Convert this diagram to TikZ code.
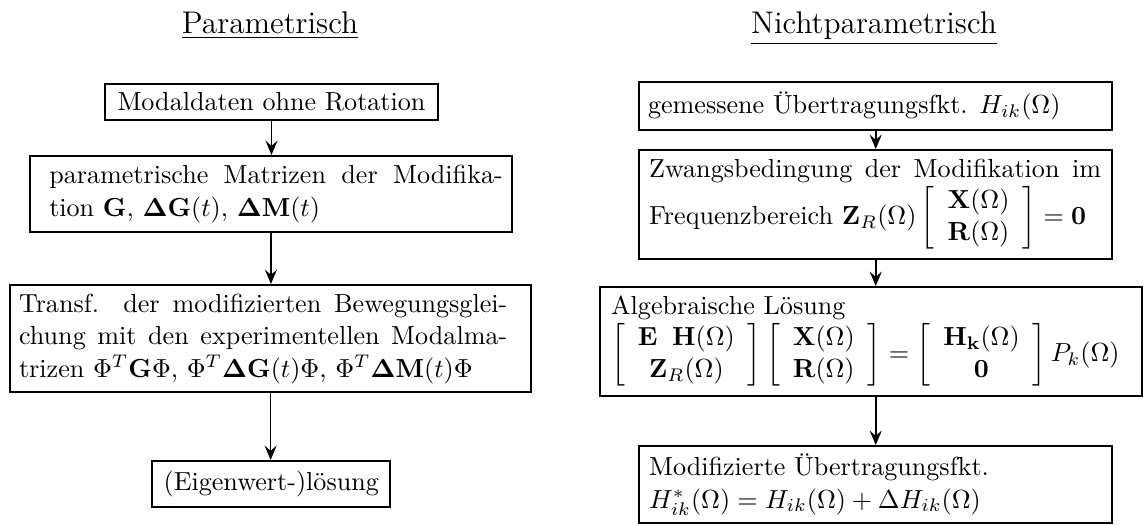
\documentclass[tikz,border=0pt]{standalone}
\usepackage{amsmath}
\usetikzlibrary{arrows.meta}
\newcommand{\bodyfont}{\fontsize{10}{12.4}\selectfont}
\newcommand{\boxtext}[4]{\makebox[#1][l]{\hspace*{#2}\parbox{#3}{\hyphenpenalty=10000\relax\tolerance=10000\relax #4}}}
\tikzset{
  box/.style={draw, line width=0.9pt, inner sep=0pt, anchor=north west, font=\bodyfont},
  flow/.style={-{Stealth[length=5.5pt,width=4.6pt,inset=2pt]}, line width=0.65pt},
  ttl/.style={anchor=base, inner sep=0pt, font=\fontsize{12}{14}\selectfont}
}
\begin{document}
\begin{tikzpicture}[x=0.383pt,y=-0.383pt]
\useasboundingbox (0,0) rectangle (1144,524);
% titles
\node[ttl] (tl) at (270,33) {\underline{Parametrisch}};
\node[ttl] (tr) at (874,33) {\underline{Nichtparametrisch}};
% left column
\node[box, minimum width=127.7pt, minimum height=13.8pt] (L1) at (103.6,83) {Modaldaten ohne Rotation};
\node[box, minimum width=184.8pt, minimum height=29.1pt] (L2) at (28.5,155)
  {\boxtext{184.8pt}{7.5pt}{173.7pt}{parametrische Matrizen der Modifika-\linebreak tion $\mathbf{G}$, $\mathbf{\Delta G}(t)$, $\mathbf{\Delta M}(t)$}};
\node[box, minimum width=199.5pt, minimum height=41pt] (L3) at (9,284)
  {\boxtext{199.5pt}{3.4pt}{187pt}{Transf. der modifizierten Bewegungsglei-\linebreak chung mit den experimentellen Modalma-\linebreak trizen $\Phi^T\mathbf{G}\Phi$, $\Phi^T\mathbf{\Delta G}(t)\Phi$, $\Phi^T\mathbf{\Delta M}(t)\Phi$}};
\node[box, minimum width=91.2pt, minimum height=17.6pt] (L4) at (151,460) {(Eigenwert-)lösung};
% right column
\node[box, minimum width=181.2pt, minimum height=18.4pt] (R1) at (638,81)
  {\makebox[181.2pt][l]{\hspace*{3.4pt}gemessene Übertragungsfkt. $H_{ik}(\Omega)$}};
\node[box, minimum width=181.2pt, minimum height=41.7pt] (R2) at (638,149)
  {\boxtext{181.2pt}{3.8pt}{173.1pt}{Zwangsbedingung der Modifikation im\linebreak Frequenzbereich $\mathbf{Z}_R(\Omega)\left[\begin{array}{c}\mathbf{X}(\Omega)\\ \mathbf{R}(\Omega)\end{array}\right]=\mathbf{0}$}};
\node[box, minimum width=207.6pt, minimum height=41.7pt] (R3) at (599,286)
  {\boxtext{207.6pt}{4.2pt}{201pt}{\raggedright Algebraische Lösung\\ $\left[\begin{array}{c}\mathbf{E}\;\;\mathbf{H}(\Omega)\\ \mathbf{Z}_R(\Omega)\end{array}\right]\left[\begin{array}{c}\mathbf{X}(\Omega)\\ \mathbf{R}(\Omega)\end{array}\right]=\left[\begin{array}{c}\mathbf{H}_{\mathbf{k}}(\Omega)\\ \mathbf{0}\end{array}\right]P_k(\Omega)$}};
\node[box, minimum width=181.2pt, minimum height=29.5pt] (R4) at (638,445)
  {\boxtext{181.2pt}{3.8pt}{173pt}{\raggedright Modifizierte Übertragungsfkt.\\ $H^*_{ik}(\Omega)=H_{ik}(\Omega)+\Delta H_{ik}(\Omega)$}};
% connectors
\draw[flow] (L1.south) -- (L1.south |- L2.north);
\draw[flow] (L2.south) -- (L2.south |- L3.north);
\draw[flow] (L3.south) -- (L3.south |- L4.north);
\draw[flow] (R1.south) -- (R1.south |- R2.north);
\draw[flow] (R2.south) -- (R2.south |- R3.north);
\draw[flow] (R2.south |- R3.south) -- (R2.south |- R4.north);
\end{tikzpicture}
\end{document}
